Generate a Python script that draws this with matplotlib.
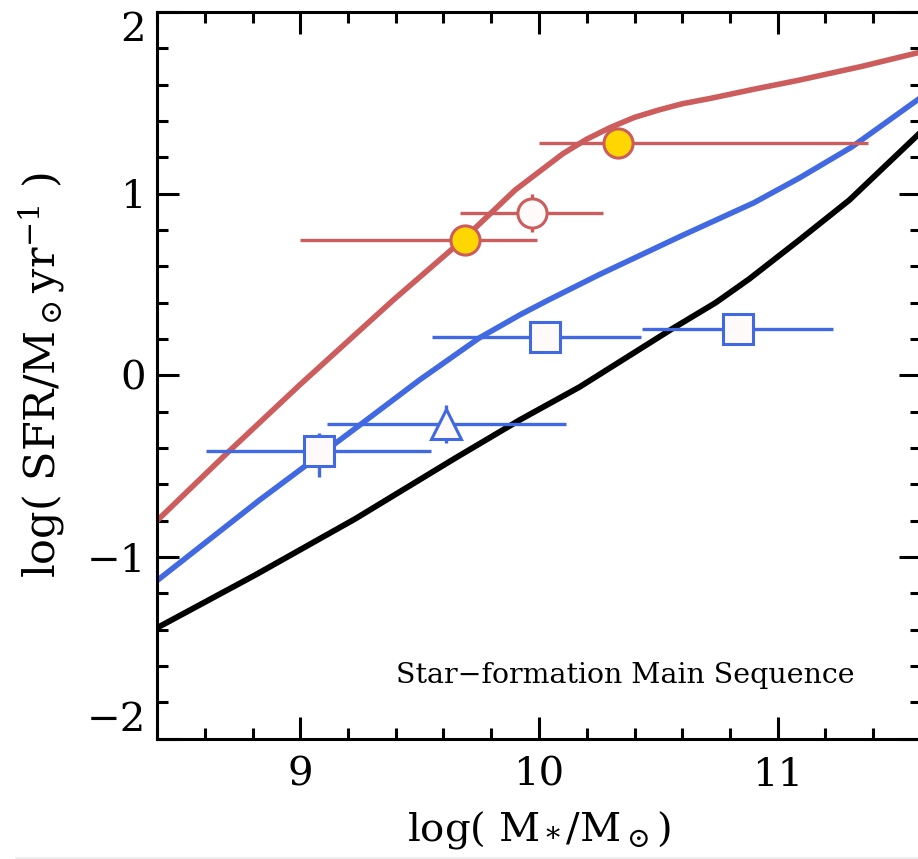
import matplotlib

matplotlib.use("Agg")
import matplotlib.pyplot as plt
from matplotlib.lines import Line2D

plt.rcParams["font.family"] = "DejaVu Serif"
plt.rcParams["mathtext.fontset"] = "dejavuserif"

# main sequence curves
red_x = [8.4, 8.7, 9.0, 9.39, 9.68, 9.9, 10.1, 10.2, 10.3, 10.4, 10.5, 10.6, 10.72, 10.9, 11.09, 11.35, 11.6]
red_y = [-0.80, -0.42, -0.05, 0.415, 0.745, 1.02, 1.22, 1.30, 1.365, 1.42, 1.46, 1.495, 1.525, 1.575, 1.625, 1.70, 1.78]

blue_x = [8.4, 8.83, 9.03, 9.25, 9.5, 9.75, 9.92, 10.04, 10.25, 10.6, 10.9, 11.09, 11.31, 11.6]
blue_y = [-1.13, -0.686, -0.49, -0.273, -0.025, 0.206, 0.333, 0.415, 0.553, 0.77, 0.95, 1.086, 1.257, 1.53]

black_x = [8.4, 8.81, 9.23, 9.65, 9.92, 10.17, 10.55, 10.74, 10.88, 11.09, 11.3, 11.6]
black_y = [-1.39, -1.10, -0.79, -0.455, -0.245, -0.064, 0.25, 0.40, 0.53, 0.745, 0.965, 1.34]

# observed points (red: filled and open circles)
gold_x = [9.688, 10.329]
gold_y = [0.745, 1.279]
gold_xlo = [0.69, 0.33]
gold_xhi = [0.305, 1.05]

open_x = [9.969]
open_y = [0.894]
open_xerr = [0.30]
open_yerr = [0.105]

# blue squares and triangle
sq_x = [9.08, 10.027, 10.832]
sq_y = [-0.418, 0.211, 0.255]
sq_xlo = [0.474, 0.474, 0.40]
sq_xhi = [0.469, 0.40, 0.40]
sq_ylo = [0.14, 0.0, 0.0]
sq_yhi = [0.10, 0.0, 0.0]

tri_x = [9.612]
tri_y = [-0.266]
tri_xerr = [0.50]
tri_yerr = [0.105]

RED = "#cd5c5c"
BLUE = "#4169e1"

fig = plt.figure(figsize=(9.18, 8.59), dpi=100)
ax = fig.add_axes([157 / 918, 120.3 / 859, 764 / 918, 726.7 / 859])

ax.plot(black_x, black_y, color="black", lw=4.2, zorder=2)
ax.plot(blue_x, blue_y, color=BLUE, lw=4.0, zorder=2)
ax.plot(red_x, red_y, color=RED, lw=4.0, zorder=2)

ms = 21
kw = dict(ms=ms, mew=2.2, elinewidth=2.4, capsize=0, zorder=3)
ax.errorbar(gold_x, gold_y, xerr=[gold_xlo, gold_xhi], fmt="o",
            mfc="gold", mec=RED, ecolor=RED, **kw)
ax.errorbar(open_x, open_y, xerr=open_xerr, yerr=open_yerr, fmt="o",
            mfc="#fffafa", mec=RED, ecolor=RED, **kw)
ax.errorbar(sq_x, sq_y, xerr=[sq_xlo, sq_xhi], yerr=[sq_ylo, sq_yhi], fmt="s",
            mfc="#fffafa", mec=BLUE, ecolor=BLUE, **kw)
ax.errorbar(tri_x, tri_y, xerr=tri_xerr, yerr=tri_yerr, fmt="^",
            mfc="#fffafa", mec=BLUE, ecolor=BLUE, **kw)

ax.set_xlim(8.4, 11.6)
ax.set_ylim(-2, 2)
ax.set_xticks([9, 10, 11])
ax.set_yticks([-2, -1, 0, 1, 2])
ax.set_xticks([x / 10 for x in range(84, 117, 2)], minor=True)
ax.set_yticks([y / 10 for y in range(-20, 21, 2)], minor=True)
ax.tick_params(which="both", direction="in", top=True, right=True, width=2.2)
ax.tick_params(which="major", length=16, labelsize=29)
ax.tick_params(which="minor", length=8)
ax.tick_params(axis="x", pad=13)
ax.tick_params(axis="y", pad=8)
for s in ax.spines.values():
    s.set_linewidth(2.2)

# keep the end labels inside the frame
ylabels = ax.get_yticklabels()
ylabels[0].set_va("bottom")
ylabels[-1].set_va("top")

ax.set_xlabel(r"log( M$_*$/M$_\odot$)", fontsize=29, labelpad=11)
ax.set_ylabel(r"log( SFR/M$_\odot$yr$^{-1}$ )", fontsize=31, labelpad=14)

ax.text(0.313, 0.077, "Star\u2212formation Main Sequence", transform=ax.transAxes,
        fontsize=20.5, ha="left", va="baseline")

fig.add_artist(Line2D([16 / 918, 1], [1.5 / 859, 1.5 / 859], color="#eeeeee", lw=2))

fig.savefig("out.png", dpi=100)
